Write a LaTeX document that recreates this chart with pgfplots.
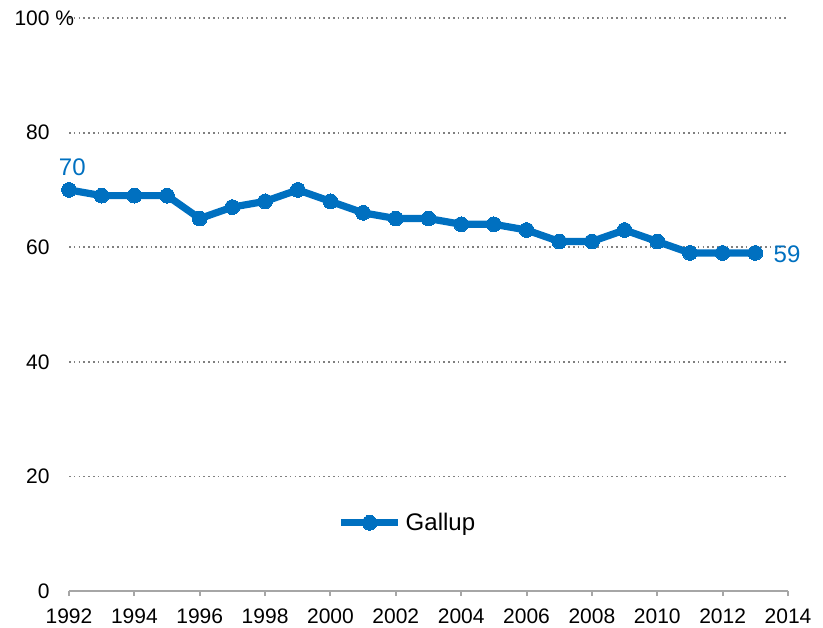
\documentclass[border=0pt]{standalone}
\usepackage{pgfplots}
\pgfplotsset{compat=1.18}
\usepackage{fontspec}
\setmainfont{Liberation Sans}
\definecolor{pblue}{HTML}{0070C0}
\definecolor{axgray}{HTML}{A6A6A6}
\begin{document}
\begin{tikzpicture}
\begin{axis}[
  name=ax,
  scale only axis, width=359.5pt, height=286.5pt,
  xmin=1992, xmax=2014, ymin=0, ymax=100,
  enlargelimits=false, clip=false,
  xtick={1992,1994,...,2014}, ytick={0,20,40,60,80,100},
  yticklabels={0,20,40,60,80,100\rlap{ \%}},
  /pgf/number format/assume math mode=true,
  x tick label style={/pgf/number format/1000 sep={}},
  tick label style={font=\fontsize{10.5}{12}\selectfont, text=black},
  separate axis lines,
  axis x line*=bottom,
  axis y line*=left,
  y axis line style={draw=none},
  x axis line style={draw=axgray, line width=1pt, -},
  xtick style={draw=axgray, line width=1pt},
  ytick style={draw=none},
  tick align=outside, major tick length=2.5pt,
  xticklabel style={yshift=-2.7pt},
  yticklabel style={xshift=-3.7pt},
  ymajorgrids,
  grid style={draw=gray, line width=0.9pt, dash pattern=on 0.8pt off 1.6pt},
  legend style={at={(0.472,0.119)}, anchor=center, draw=none, fill=none,
    font=\fontsize{12}{14}\selectfont, inner sep=0pt,
    /tikz/every even column/.style={column sep=0pt}},
  legend cell align=left,
  legend image code/.code={\draw[mark repeat=2,mark phase=2,#1] plot coordinates {(0cm,0cm) (0.5cm,0cm) (1.0cm,0cm)};},
]
\addplot[pblue, line width=3.6pt, mark=*, mark size=3.7pt, mark options={solid, line width=0pt, fill=pblue}] coordinates {
(1992,70) (1993,69) (1994,69) (1995,69) (1996,65) (1997,67) (1998,68) (1999,70)
(2000,68) (2001,66) (2002,65) (2003,65) (2004,64) (2005,64) (2006,63) (2007,61)
(2008,61) (2009,63) (2010,61) (2011,59) (2012,59) (2013,59)};
\addlegendentry{Gallup}
\node[text=pblue, font=\fontsize{12}{14}\selectfont, anchor=south, inner sep=0pt] at (axis cs:1992.1,72.4) {70};
\node[text=pblue, font=\fontsize{12}{14}\selectfont, anchor=west, inner sep=0pt] at (axis cs:2013.55,58.8) {59};
\end{axis}
\pgfresetboundingbox
\path[use as bounding box] ([xshift=-34.5pt,yshift=-18pt]ax.south west) rectangle ([xshift=17.5pt,yshift=9pt]ax.north east);
\end{tikzpicture}
\end{document}
